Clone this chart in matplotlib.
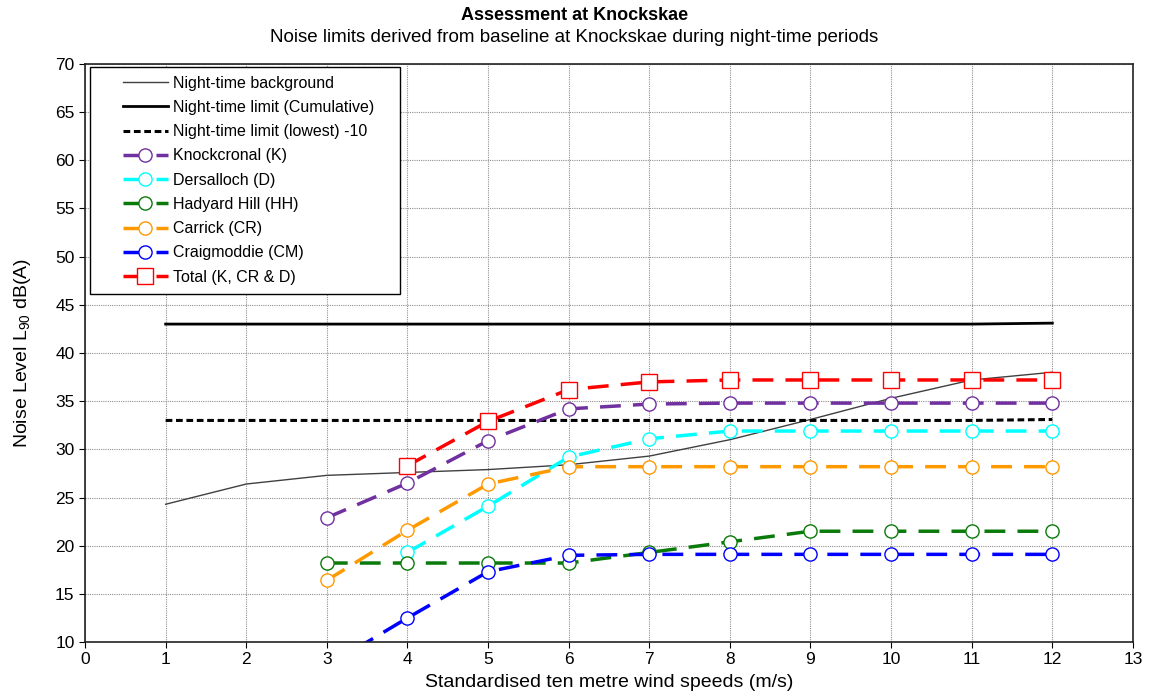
import matplotlib
matplotlib.use("Agg")
import matplotlib.pyplot as plt
from matplotlib.legend_handler import HandlerLine2D

plt.rcParams['font.family'] = ['Liberation Sans', 'DejaVu Sans']
plt.rcParams['mathtext.fontset'] = 'custom'
plt.rcParams['mathtext.rm'] = 'Liberation Sans'

x_all = [1, 2, 3, 4, 5, 6, 7, 8, 9, 10, 11, 12]
background = [24.3, 26.4, 27.3, 27.6, 27.9, 28.4, 29.3, 31.0, 33.1, 35.3, 37.2, 38.0]
limit_cum = [43.0, 43.0, 43.0, 43.0, 43.0, 43.0, 43.0, 43.0, 43.0, 43.0, 43.0, 43.1]
limit_low = [33.0, 33.0, 33.0, 33.0, 33.0, 33.0, 33.0, 33.0, 33.0, 33.0, 33.0, 33.1]

x_k = [3, 4, 5, 6, 7, 8, 9, 10, 11, 12]
knockcronal = [22.9, 26.5, 30.9, 34.2, 34.7, 34.8, 34.8, 34.8, 34.8, 34.8]
x_d = [4, 5, 6, 7, 8, 9, 10, 11, 12]
dersalloch = [19.3, 24.1, 29.2, 31.1, 31.9, 31.9, 31.9, 31.9, 31.9]
x_hh = [3, 4, 5, 6, 7, 8, 9, 10, 11, 12]
hadyard = [18.2, 18.2, 18.2, 18.2, 19.3, 20.4, 21.5, 21.5, 21.5, 21.5]
x_cr = [3, 4, 5, 6, 7, 8, 9, 10, 11, 12]
carrick = [16.4, 21.6, 26.4, 28.2, 28.2, 28.2, 28.2, 28.2, 28.2, 28.2]
x_cm = [3, 4, 5, 6, 7, 8, 9, 10, 11, 12]
craigmoddie = [7.5, 12.5, 17.3, 19.0, 19.1, 19.1, 19.1, 19.1, 19.1, 19.1]
x_t = [4, 5, 6, 7, 8, 9, 10, 11, 12]
total = [28.3, 32.9, 36.2, 37.0, 37.2, 37.2, 37.2, 37.2, 37.2]

fig = plt.figure(figsize=(11.49, 6.99), dpi=100)
ax = fig.add_axes([0.074, 0.0815, 0.912, 0.827])

ax.plot(x_all, background, color='#404040', lw=1.0, label='Night-time background')
ax.plot(x_all, limit_cum, color='black', lw=2.0, label='Night-time limit (Cumulative)')
ax.plot(x_all, limit_low, color='black', lw=2.2, dashes=(2.2, 1.2), label='Night-time limit (lowest) -10')

dash = (6, 3.5)
def series(x, y, c, lab, marker='o', ms=9.5):
    ax.plot(x, y, color=c, lw=2.5, dashes=dash, marker=marker, ms=ms,
            mfc='white', mec=c, mew=1.0, label=lab, clip_on=True)

series(x_k, knockcronal, '#7030A0', 'Knockcronal (K)')
series(x_d, dersalloch, '#00FFFF', 'Dersalloch (D)')
series(x_hh, hadyard, '#0A7A0A', 'Hadyard Hill (HH)')
series(x_cr, carrick, '#FF9900', 'Carrick (CR)')
series(x_cm, craigmoddie, '#0000FF', 'Craigmoddie (CM)')
series(x_t, total, '#FF0000', 'Total (K, CR & D)', marker='s', ms=11)

ax.set_xlim(0, 13)
ax.set_ylim(10, 70)
ax.set_xticks(range(0, 14))
ax.set_yticks(range(10, 71, 5))
ax.tick_params(labelsize=12.5, length=4, direction='out')
ax.grid(True, color='#909090', linestyle=(0, (1, 1)), lw=0.8)
for s in ax.spines.values():
    s.set_color('#222222')
    s.set_linewidth(1.2)

ax.set_xlabel('Standardised ten metre wind speeds (m/s)', fontsize=14, labelpad=5)
ax.set_ylabel('Noise Level L$_{\\mathregular{90}}$ dB(A)', fontsize=14, labelpad=16)

fig.text(0.5, 0.978, 'Assessment at Knockskae', ha='center', va='center',
         fontsize=13, fontweight='bold')
fig.text(0.5, 0.947, 'Noise limits derived from baseline at Knockskae during night-time periods',
         ha='center', va='center', fontsize=13.5)

leg = ax.legend(loc='upper left', bbox_to_anchor=(0.005, 0.4, 0.296, 0.595), mode='expand',
                borderaxespad=0, fontsize=11.5, handlelength=4.3, fancybox=False, framealpha=1,
                edgecolor='black', labelspacing=0.58, borderpad=0.55, handletextpad=0.3,
                handler_map={matplotlib.lines.Line2D: HandlerLine2D(xpad=1.5)})
leg.get_frame().set_linewidth(1.0)

fig.savefig('out.png', dpi=100)
